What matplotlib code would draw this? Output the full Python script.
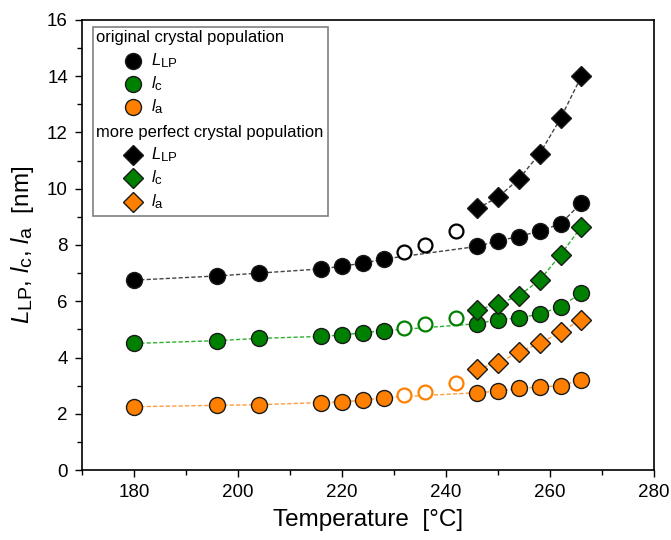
import matplotlib
matplotlib.use("Agg")
import matplotlib.pyplot as plt
import matplotlib._mathtext as _mt
from matplotlib.patches import Rectangle
from matplotlib.ticker import MultipleLocator

_mt.SHRINK_FACTOR = 0.8

plt.rcParams['font.family'] = ['Liberation Sans', 'DejaVu Sans']
plt.rcParams['mathtext.fontset'] = 'custom'
plt.rcParams['mathtext.rm'] = 'Liberation Sans'
plt.rcParams['mathtext.it'] = 'Liberation Sans:italic'

# Temperatures
T_orig_fill_a = [180, 196, 204, 216, 220, 224, 228]
T_orig_open = [232, 236, 242]
T_orig_fill_b = [246, 250, 254, 258, 262, 266]
T_perf = [246, 250, 254, 258, 262, 266]

# Original crystal population
LLP_fill_a = [6.75, 6.9, 7.0, 7.15, 7.25, 7.35, 7.5]
LLP_open = [7.75, 8.0, 8.5]
LLP_fill_b = [7.95, 8.15, 8.3, 8.5, 8.75, 9.5]
lc_fill_a = [4.5, 4.6, 4.68, 4.75, 4.8, 4.88, 4.95]
lc_open = [5.05, 5.2, 5.4]
lc_fill_b = [5.2, 5.35, 5.4, 5.55, 5.8, 6.3]
la_fill_a = [2.25, 2.3, 2.32, 2.4, 2.42, 2.48, 2.57]
la_open = [2.65, 2.78, 3.1]
la_fill_b = [2.75, 2.8, 2.9, 2.95, 3.0, 3.2]

# More perfect crystal population
LLP_perf = [9.3, 9.7, 10.35, 11.25, 12.5, 14.0]
lc_perf = [5.7, 5.9, 6.2, 6.75, 7.65, 8.65]
la_perf = [3.6, 3.8, 4.2, 4.5, 4.9, 5.35]

BLACK = '#000000'
GREEN = '#008000'
ORANGE = '#ff8000'
LINE_BLACK = '#444444'
LINE_GREEN = '#2db02d'
LINE_ORANGE = '#ff9a3a'

fig = plt.figure(figsize=(6.71, 5.40), dpi=100)
ax = fig.add_axes([0.122, 0.1296, 0.853, 0.8334])

ms_c = 11.5
ms_d = 10

series = [
    (LLP_fill_a, LLP_open, LLP_fill_b, LLP_perf, BLACK, LINE_BLACK),
    (lc_fill_a, lc_open, lc_fill_b, lc_perf, GREEN, LINE_GREEN),
    (la_fill_a, la_open, la_fill_b, la_perf, ORANGE, LINE_ORANGE),
]
for fa, op, fb, pf, col, lcol in series:
    ax.plot(T_orig_fill_a + T_orig_fill_b, fa + fb, ls=(0, (3, 1.6)), lw=1.0,
            color=lcol, zorder=2)
    ax.plot(T_perf, pf, ls=(0, (3, 1.6)), lw=1.0, color=lcol, zorder=2)
    ax.plot(T_orig_fill_a + T_orig_fill_b, fa + fb, ls='none', marker='o', ms=ms_c,
            mfc=col, mec='#1a1a1a', mew=1.0, zorder=3)
    ax.plot(T_orig_open, op, ls='none', marker='o', ms=ms_c - 1.5,
            mfc='white', mec=col, mew=1.6, zorder=3)
    ax.plot(T_perf, pf, ls='none', marker='D', ms=ms_d,
            mfc=col, mec='#1a1a1a', mew=1.0, zorder=3)

ax.set_xlim(170, 280)
ax.set_ylim(0, 16)
ax.xaxis.set_major_locator(MultipleLocator(20))
ax.xaxis.set_minor_locator(MultipleLocator(10))
ax.yaxis.set_major_locator(MultipleLocator(2))
ax.yaxis.set_minor_locator(MultipleLocator(1))
ax.tick_params(axis='both', which='major', direction='out', length=5, width=1,
               labelsize=13.5, top=False, right=False, pad=5)
ax.tick_params(axis='both', which='minor', direction='out', length=3.5, width=1,
               top=False, right=False)
for sp in ax.spines.values():
    sp.set_linewidth(1.2)

ax.set_xlabel('Temperature  [°C]', fontsize=17.5, labelpad=6)
ax.set_ylabel(r'$L_{\mathrm{LP}}$, $l_{\mathrm{c}}$, $l_{\mathrm{a}}$  [nm]',
              fontsize=17.5, labelpad=8)

# Manual legend
tr = ax.transAxes

def py(p):
    return (470 - p) / 450.0

def px(p):
    return (p - 82) / 572.0

ax.add_patch(Rectangle((px(93), py(216)), px(328) - px(93), py(27) - py(216),
                       transform=tr, facecolor='white', edgecolor='#808080',
                       lw=1.2, zorder=5))

fs = 11.9
ax.text(px(96), py(38), 'original crystal population', transform=tr, fontsize=fs,
        va='center', ha='left', zorder=6)
ax.text(px(96), py(133), 'more perfect crystal population', transform=tr, fontsize=fs,
        va='center', ha='left', zorder=6)
labels = [r'$L_{\mathrm{LP}}$', r'$l_{\mathrm{c}}$', r'$l_{\mathrm{a}}$']
cols = [BLACK, GREEN, ORANGE]
rows1 = [61, 84, 107]
rows2 = [155, 178, 202]
for lab, col, r in zip(labels, cols, rows1):
    ax.plot([px(133)], [py(r)], transform=tr, marker='o', ms=ms_c, mfc=col,
            mec='#1a1a1a', mew=1.0, ls='none', zorder=6, clip_on=False)
    ax.text(px(151), py(r), lab, transform=tr, fontsize=fs, va='center', ha='left', zorder=6)
for lab, col, r in zip(labels, cols, rows2):
    ax.plot([px(133)], [py(r)], transform=tr, marker='D', ms=ms_d, mfc=col,
            mec='#1a1a1a', mew=1.0, ls='none', zorder=6, clip_on=False)
    ax.text(px(151), py(r), lab, transform=tr, fontsize=fs, va='center', ha='left', zorder=6)

fig.savefig('out.png', dpi=100)
